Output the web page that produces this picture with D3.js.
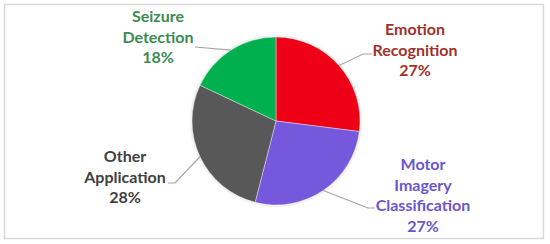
<!DOCTYPE html>
<html>
<head>
<meta charset="utf-8">
<script src="https://cdn.jsdelivr.net/npm/d3@7"></script>
<style>
  body { margin: 0; background: #fff; }
  svg { display: block; }
</style>
</head>
<body>
<div id="chart"></div>
<script>
// values, clockwise from 12 o'clock
var categories = ["Emotion Recognition", "Motor Imagery Classification", "Other Application", "Seizure Detection"];
var shares = [27, 27, 28, 18];
var labelLines = [["Emotion", "Recognition", "27%"],
                  ["Motor", "Imagery", "Classification", "27%"],
                  ["Other", "Application", "28%"],
                  ["Seizure", "Detection", "18%"]];

var sliceColors = ["#ee0012", "#7459dc", "#595959", "#00b050"];
var textColors = ["#a1302b", "#6a56cf", "#404040", "#3d8a52"];

// label layout: text centre x, first baseline, elbow of leader, end of leader
var labelPos = [
  {x: 415, y: 35, elbow: [363, 54], end: [372, 54]},
  {x: 423, y: 170, elbow: [368, 208], end: [375, 208]},
  {x: 125, y: 162, elbow: [175, 183], end: [168, 183]},
  {x: 158, y: 22, elbow: [195, 47], end: [195, 47]}
];

var width = 550, height = 244;
var cx = 276, cy = 121, r = 84;

var svg = d3.select("#chart").append("svg")
            .attr("width", width)
            .attr("height", height);

var defs = svg.append("defs");
var shadow = defs.append("filter").attr("id", "shadow")
                 .attr("x", "-20%").attr("y", "-20%")
                 .attr("width", "140%").attr("height", "140%");
shadow.append("feDropShadow")
      .attr("dx", 0).attr("dy", 0)
      .attr("stdDeviation", 1.5)
      .attr("flood-color", "#000")
      .attr("flood-opacity", 0.25);

// outer frame
svg.append("rect")
   .attr("x", 4.5).attr("y", 4.5)
   .attr("width", 539).attr("height", 234)
   .attr("fill", "#fff")
   .attr("stroke", "#d9d9d9")
   .attr("stroke-width", 1.5);

var pie = d3.pie().sort(null).value(function(d) { return d; });
var arcs = pie(shares);

var arc = d3.arc().innerRadius(0).outerRadius(r);
var rim = d3.arc().innerRadius(r).outerRadius(r);

var g = svg.append("g").attr("transform", "translate(" + cx + "," + cy + ")");

g.append("g").attr("filter", "url(#shadow)")
 .selectAll("path")
 .data(arcs)
 .enter().append("path")
 .attr("d", arc)
 .attr("fill", function(d, i) { return sliceColors[i]; })
 .attr("stroke", "#fff")
 .attr("stroke-width", 0.4);

// leader lines
svg.selectAll("polyline.leader")
   .data(arcs)
   .enter().append("polyline")
   .attr("class", "leader")
   .attr("points", function(d, i) {
     var c = rim.centroid(d);
     var p = labelPos[i];
     return [[cx + c[0], cy + c[1]], p.elbow, p.end].join(" ");
   })
   .attr("fill", "none")
   .attr("stroke", "#a6a6a6")
   .attr("stroke-width", 1.2);

// labels
var labels = svg.selectAll("text.lbl")
   .data(categories)
   .enter().append("text")
   .attr("class", "lbl")
   .attr("text-anchor", "middle")
   .attr("font-family", "Lato, 'Open Sans', sans-serif")
   .attr("font-weight", "bold")
   .attr("font-size", 16)
   .attr("fill", function(d, i) { return textColors[i]; });

labels.each(function(d, i) {
  var t = d3.select(this);
  labelLines[i].forEach(function(line, k) {
    t.append("tspan")
     .attr("x", labelPos[i].x)
     .attr("y", labelPos[i].y + k * 20.5)
     .text(line);
  });
});
</script>
</body>
</html>
